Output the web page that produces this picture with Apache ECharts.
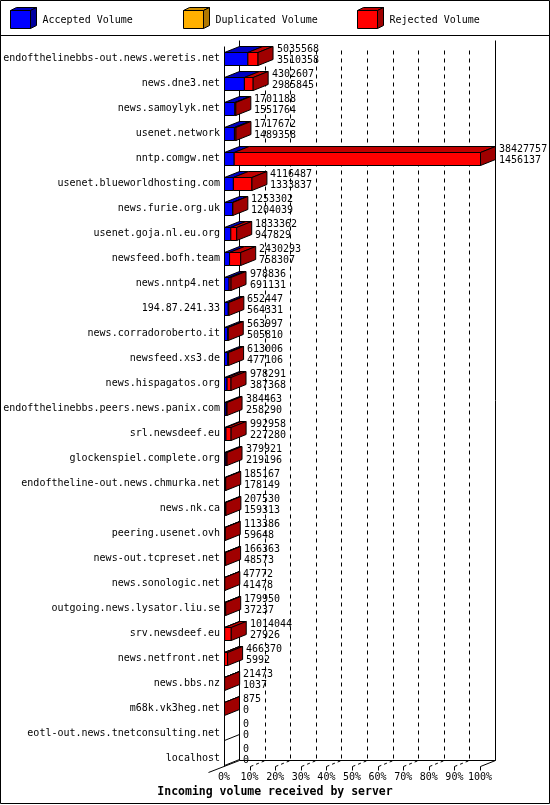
<!DOCTYPE html>
<html><head><meta charset="utf-8">
<script src="https://cdn.jsdelivr.net/npm/echarts@6/dist/echarts.min.js"></script>
<style>html,body{margin:0;padding:0;background:#fff}#c{width:550px;height:805px}</style>
</head><body><div id="c"></div>
<script>
// ---------------- data ----------------
const servers = [
  'endofthelinebbs-out.news.weretis.net','news.dne3.net','news.samoylyk.net','usenet.network',
  'nntp.comgw.net','usenet.blueworldhosting.com','news.furie.org.uk','usenet.goja.nl.eu.org',
  'newsfeed.bofh.team','news.nntp4.net','194.87.241.33','news.corradoroberto.it',
  'newsfeed.xs3.de','news.hispagatos.org','endofthelinebbs.peers.news.panix.com','srl.newsdeef.eu',
  'glockenspiel.complete.org','endoftheline-out.news.chmurka.net','news.nk.ca','peering.usenet.ovh',
  'news-out.tcpreset.net','news.sonologic.net','outgoing.news.lysator.liu.se','srv.newsdeef.eu',
  'news.netfront.net','news.bbs.nz','m68k.vk3heg.net','eotl-out.news.tnetconsulting.net','localhost'
];
const totalVolume = [
  5035568,4302607,1701188,1717672,38427757,4116487,1253302,1833362,2430293,978836,652447,563997,
  613006,978291,384463,992958,379921,185167,207530,113386,166363,47772,179950,1014044,466370,
  21473,875,0,0
];
const acceptedVolume = [
  3510358,2985845,1551764,1489358,1456137,1333837,1204039,947829,758307,691131,564331,505810,
  477106,387368,258290,227280,219196,178149,159313,59648,48573,41478,37237,27926,5992,1037,0,0,0
];
const duplicatedVolume = [
  0,0,0,0,0,0,0,0,0,0,0,0,0,0,0,0,0,0,0,0,0,0,0,0,0,0,0,0,0
];
const xTickLabels = ['0%','10%','20%','30%','40%','50%','60%','70%','80%','90%','100%'];
const legendNames = ['Accepted Volume','Duplicated Volume','Rejected Volume'];
const chartTitle = 'Incoming volume received by server';

// ---------------- styles ----------------
const FONT = 'DejaVu Sans Mono';
const COL = {
  acc: {front:'#0000ff', top:'#0000c0', side:'#0000a0'},
  dup: {front:'#ffb000', top:'#d09000', side:'#b07800'},
  rej: {front:'#ff0000', top:'#c00000', side:'#a00000'}
};
const DX = 15, DY = -6, BAR_H = 13;
const GRID = {left:224, width:256, top:46, height:725};

const maxTotal = Math.max.apply(null, totalVolume);
const barData = servers.map((s, i) => {
  const acc = acceptedVolume[i], dup = duplicatedVolume[i], tot = totalVolume[i];
  return [i, acc / maxTotal * 100, dup / maxTotal * 100, tot / maxTotal * 100, tot, acc];
});

const P = v => Math.round(v) + 0.5;
const lineStyle = {stroke:'#000', lineWidth:1};

function renderBar(params, api) {
  const i = api.value(0);
  const acc = api.value(1), dup = api.value(2), tot = api.value(3);
  const base = api.coord([0, i]);
  const x0 = P(base[0]);
  const yc = base[1];
  const yT = P(yc - BAR_H / 2), yB = yT + BAR_H;
  const children = [];
  const segs = [[0, acc, COL.acc], [acc, acc + dup, COL.dup], [acc + dup, tot, COL.rej]];
  let last = null;
  if (tot > 0) {
    segs.forEach(s => {
      if (s[1] - s[0] <= 0) return;
      const xa = api.coord([s[0], i])[0], xb = api.coord([s[1], i])[0];
      const a = s[0] === 0 ? x0 : xa + 0.5, b = xb + 0.5;
      children.push({type:'rect', shape:{x:a, y:yT, width:Math.max(b - a, 0), height:BAR_H},
        style:{fill:s[2].front, stroke:'#000', lineWidth:1}});
      children.push({type:'polygon', shape:{points:[[a,yT],[b,yT],[b+DX,yT+DY],[a+DX,yT+DY]]},
        style:{fill:s[2].top, stroke:'#000', lineWidth:1}});
      last = s[2];
    });
    const xe = api.coord([tot, i])[0] + 0.5;
    children.push({type:'polygon', shape:{points:[[xe,yT],[xe+DX,yT+DY],[xe+DX,yB+DY],[xe,yB]]},
      style:{fill:last.side, stroke:'#000', lineWidth:1}});
  } else {
    children.push({type:'line', shape:{x1:x0, y1:yB, x2:x0+DX, y2:yB+DY}, style:lineStyle});
  }
  const xe2 = api.coord([tot, i])[0];
  const tx = Math.round(xe2 + DX + 4);
  children.push({type:'text', style:{text:String(api.value(4)), x:tx, y:Math.round(yc - 9.5),
    fill:'#000', font:'10px "' + FONT + '"', verticalAlign:'middle', align:'left'}});
  children.push({type:'text', style:{text:String(api.value(5)), x:tx, y:Math.round(yc + 1.5),
    fill:'#000', font:'10px "' + FONT + '"', verticalAlign:'middle', align:'left'}});
  return {type:'group', children:children};
}

function renderFrame(params, api) {
  const n = servers.length;
  const x0 = P(api.coord([0, 0])[0]);
  const x100 = P(api.coord([100, 0])[0]);
  const lastC = api.coord([0, n - 1])[1];
  const floorF = P(lastC + 7);
  const floorB = floorF + DY;
  const topF = P(GRID.top);
  const topB = topF + DY;
  const ch = [];
  // dashed back-wall gridlines
  for (let v = 10; v < 100; v += 10) {
    const x = P(api.coord([v, 0])[0]) + DX;
    ch.push({type:'line', shape:{x1:x, y1:topB + 10, x2:x, y2:floorB},
      style:{stroke:'#000', lineWidth:1, lineDash:[4,4]}});
    const xf = P(api.coord([v, 0])[0]);
    ch.push({type:'line', shape:{x1:xf, y1:floorF, x2:xf+DX, y2:floorB},
      style:{stroke:'#000', lineWidth:1, lineDash:[3,3]}});
    ch.push({type:'line', shape:{x1:xf, y1:floorF, x2:xf, y2:floorF+4}, style:lineStyle});
  }
  // back wall solid edges
  ch.push({type:'line', shape:{x1:x0+DX, y1:topB, x2:x0+DX, y2:floorB}, style:lineStyle});
  ch.push({type:'line', shape:{x1:x100+DX, y1:topB, x2:x100+DX, y2:floorB}, style:lineStyle});
  // back floor line
  ch.push({type:'line', shape:{x1:x0+DX, y1:floorB, x2:x100+DX, y2:floorB}, style:lineStyle});
  // right floor side & tick
  ch.push({type:'line', shape:{x1:x100+DX, y1:floorB, x2:x100, y2:floorF}, style:lineStyle});
  ch.push({type:'line', shape:{x1:x100, y1:floorF, x2:x100, y2:floorF+4}, style:lineStyle});
  // left floor side (extended)
  ch.push({type:'line', shape:{x1:x0+DX, y1:floorB, x2:x0-DX-1, y2:floorF+6}, style:lineStyle});
  // front vertical axis
  ch.push({type:'line', shape:{x1:x0, y1:topF, x2:x0, y2:floorF}, style:lineStyle});
  return {type:'group', children:ch};
}

// legend cubes
function cube(x, y, c) {
  return [
    {type:'polygon', shape:{points:[[x,y],[x+20,y],[x+26,y-3],[x+6,y-3]]}, style:{fill:c.top, stroke:'#000', lineWidth:1}},
    {type:'polygon', shape:{points:[[x+20,y],[x+26,y-3],[x+26,y+15],[x+20,y+18]]}, style:{fill:c.side, stroke:'#000', lineWidth:1}},
    {type:'rect', shape:{x:x, y:y, width:20, height:18}, style:{fill:c.front, stroke:'#000', lineWidth:1}}
  ];
}
const legendX = [10.5, 183.5, 357.5];
const legendCols = [COL.acc, COL.dup, COL.rej];
const graphics = [
  {type:'rect', shape:{x:0.5, y:0.5, width:549, height:803}, style:{fill:'none', stroke:'#000', lineWidth:1}, silent:true},
  {type:'line', shape:{x1:0, y1:35.5, x2:550, y2:35.5}, style:lineStyle, silent:true}
];
legendNames.forEach((name, k) => {
  cube(legendX[k], 10.5, legendCols[k]).forEach(g => graphics.push(g));
  graphics.push({type:'text', style:{text:name, x:legendX[k] + 32, y:20, fill:'#000',
    font:'10px "' + FONT + '"', verticalAlign:'middle'}});
});

const chart = echarts.init(document.getElementById('c'), null, {renderer:'canvas'});
chart.setOption({
  backgroundColor:'#fff',
  animation:false,
  title:{text:chartTitle, left:'center', top:786, padding:0,
    textStyle:{fontFamily:FONT, fontWeight:'bold', fontSize:11.5, color:'#000'}},
  grid:{left:GRID.left, width:GRID.width, top:GRID.top, height:GRID.height, containLabel:false},
  xAxis:{type:'value', min:0, max:100, interval:10,
    axisLine:{show:false}, axisTick:{show:false}, splitLine:{show:false},
    axisLabel:{margin:1, fontFamily:FONT, fontSize:10, color:'#000',
      formatter: v => xTickLabels[Math.round(v / 10)]}},
  yAxis:{type:'category', data:servers, inverse:true,
    axisLine:{show:false}, axisTick:{show:false}, splitLine:{show:false},
    axisLabel:{margin:4, fontFamily:FONT, fontSize:10, color:'#000', interval:0}},
  graphic:graphics,
  series:[
    {type:'custom', name:'frame', renderItem:renderFrame, data:[[0]], encode:{x:0}, z:1, silent:true},
    {type:'custom', name:'bars', renderItem:renderBar, data:barData, encode:{x:[1,2,3], y:0}, z:2, silent:true}
  ]
});
</script>
</body></html>
